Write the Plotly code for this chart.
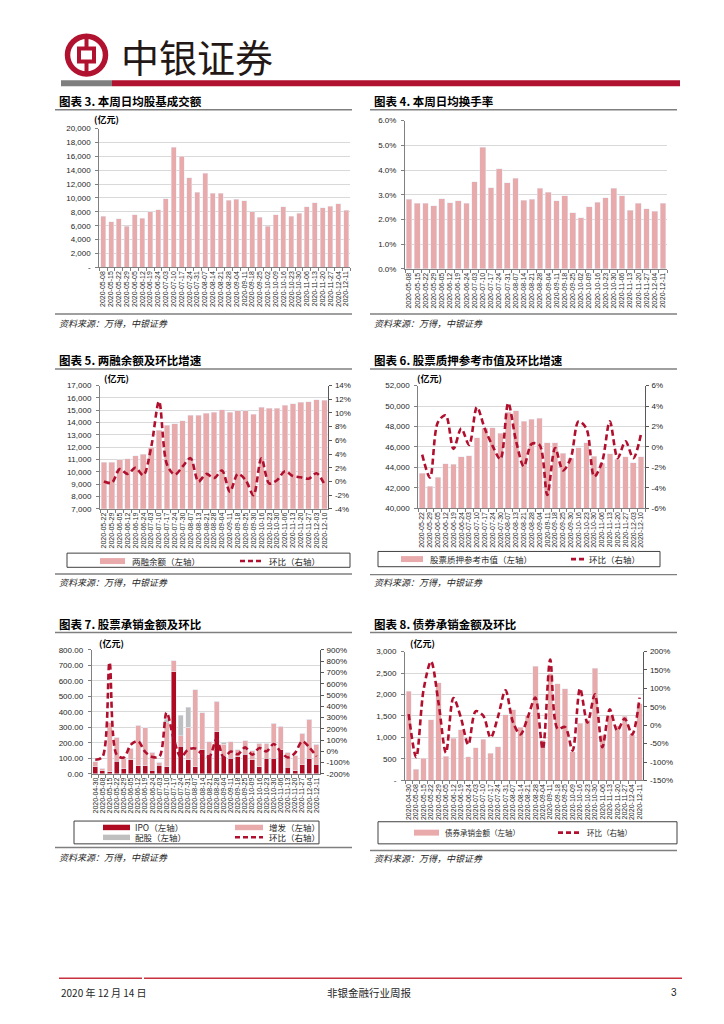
import plotly.graph_objects as go

W, H = 724, 1024
def X(px): return px / W
def Y(py): return 1 - py / H

PINK = "#E8AAAA"
RED = "#B0102E"
DARKRED = "#AE0B22"
GRAY = "#BFBFBF"
GRID = "#D9D9D9"
AXIS = "#808080"
RAXIS = "#595959"
TXT = "#262626"
NUM_FONT = "Liberation Sans, Arial, sans-serif"
CJK = "Noto Sans CJK SC, sans-serif"

# ---------------- data ----------------
dates3 = ["2020-05-08", "2020-05-15", "2020-05-22", "2020-05-29", "2020-06-05", "2020-06-12",
          "2020-06-19", "2020-06-24", "2020-07-03", "2020-07-10", "2020-07-17", "2020-07-24",
          "2020-07-31", "2020-08-07", "2020-08-14", "2020-08-21", "2020-08-28", "2020-09-04",
          "2020-09-11", "2020-09-18", "2020-09-25", "2020-10-02", "2020-10-09", "2020-10-16",
          "2020-10-23", "2020-10-30", "2020-11-06", "2020-11-13", "2020-11-20", "2020-11-27",
          "2020-12-04", "2020-12-11"]
turnover_amount = [7400, 6600, 7000, 5900, 7600, 7100, 8000, 8300, 9900, 17300, 16000, 12900,
                   10800, 13600, 10700, 10700, 9700, 9800, 9600, 8000, 7200, 5900, 7600, 8700,
                   7400, 7800, 8700, 9300, 8600, 8800, 9200, 8200]
y3_vals = [0, 2000, 4000, 6000, 8000, 10000, 12000, 14000, 16000, 18000, 20000]
y3_text = ["-", "2,000", "4,000", "6,000", "8,000", "10,000", "12,000", "14,000", "16,000",
           "18,000", "20,000"]

dates4 = dates3
turnover_rate = [2.83, 2.65, 2.66, 2.55, 2.85, 2.68, 2.75, 2.65, 3.52, 4.92, 3.28, 4.05, 3.48,
                 3.68, 2.78, 2.82, 3.27, 3.10, 2.75, 2.97, 2.27, 2.08, 2.52, 2.70, 2.88, 3.27,
                 2.97, 2.37, 2.65, 2.43, 2.33, 2.65]
y4_vals = [0, 1, 2, 3, 4, 5, 6]
y4_text = ["0.0%", "1.0%", "2.0%", "3.0%", "4.0%", "5.0%", "6.0%"]

dates5 = ["2020-05-22", "2020-05-29", "2020-06-05", "2020-06-12", "2020-06-19", "2020-06-24",
          "2020-07-03", "2020-07-10", "2020-07-17", "2020-07-24", "2020-07-30", "2020-08-07",
          "2020-08-13", "2020-08-21", "2020-08-28", "2020-09-04", "2020-09-11", "2020-09-18",
          "2020-09-25", "2020-09-30", "2020-10-16", "2020-10-23", "2020-10-30", "2020-11-06",
          "2020-11-13", "2020-11-20", "2020-11-27", "2020-12-03", "2020-12-10"]
margin_balance = [10780, 10780, 10970, 11050, 11290, 11420, 12000, 13380, 13780, 13890, 14130,
                  14610, 14610, 14750, 14830, 15040, 14830, 14960, 14960, 14670, 15230, 15180,
                  15180, 15390, 15520, 15660, 15710, 15870, 15820]
margin_mom = [0.0, -0.2, 1.8, 1.1, 2.0, 0.9, 5.0, 11.7, 2.5, 1.0, 2.2, 3.4, 0.0, 1.1, 0.5, 1.6,
              -1.5, 1.1, 0.2, -2.0, 3.4, -0.3, 0.2, 1.5, 0.8, 0.6, 0.4, 1.2, -0.4]
y5_vals = [7000, 8000, 9000, 10000, 11000, 12000, 13000, 14000, 15000, 16000, 17000]
y5_text = ["7,000", "8,000", "9,000", "10,000", "11,000", "12,000", "13,000", "14,000",
           "15,000", "16,000", "17,000"]
y5r_vals = [-4, -2, 0, 2, 4, 6, 8, 10, 12, 14]
y5r_text = ["-4%", "-2%", "0%", "2%", "4%", "6%", "8%", "10%", "12%", "14%"]

dates6 = dates5
pledge_value = [43440, 42170, 43010, 44340, 44280, 45020, 45150, 46900, 47840, 47880, 47360,
                49400, 49530, 48530, 48720, 48790, 46420, 46420, 45390, 44890, 45940, 46420,
                45090, 44420, 45320, 44770, 45060, 44470, 45020]
pledge_mom = [-0.75, -3.0, 2.4, 3.1, -0.2, 1.8, 0.2, 3.9, 1.8, 0.1, -1.2, 4.3, 0.6, -1.9, 0.3,
              0.2, -4.7, -0.1, -2.3, -1.1, 2.5, 1.8, -2.9, -1.5, 2.5, -1.1, 0.55, -1.1, 1.3]
y6_vals = [40000, 42000, 44000, 46000, 48000, 50000, 52000]
y6_text = ["40,000", "42,000", "44,000", "46,000", "48,000", "50,000", "52,000"]
y6r_vals = [-6, -4, -2, 0, 2, 4, 6]
y6r_text = ["-6%", "-4%", "-2%", "0%", "2%", "4%", "6%"]

dates7 = ["2020-04-30", "2020-05-08", "2020-05-15", "2020-05-22", "2020-05-29", "2020-06-05",
          "2020-06-12", "2020-06-19", "2020-06-24", "2020-07-03", "2020-07-10", "2020-07-17",
          "2020-07-24", "2020-07-31", "2020-08-07", "2020-08-14", "2020-08-21", "2020-08-28",
          "2020-09-04", "2020-09-11", "2020-09-18", "2020-09-25", "2020-10-09", "2020-10-16",
          "2020-10-23", "2020-10-30", "2020-11-06", "2020-11-13", "2020-11-20", "2020-11-27",
          "2020-12-04", "2020-12-11"]
ipo = [45, 21, 15, 81, 34, 90, 53, 51, 23, 55, 45, 661, 177, 92, 45, 156, 128, 271, 115, 100,
       111, 126, 92, 45, 100, 102, 156, 43, 19, 58, 100, 62]
seo = [34, 15, 315, 154, 66, 74, 260, 247, 116, 20, 285, 70, 68, 208, 498, 238, 81, 198, 75,
       107, 45, 87, 58, 153, 98, 226, 153, 96, 98, 204, 252, 130]
rights = [0, 0, 0, 0, 0, 0, 0, 0, 0, 0, 22, 0, 132, 130, 0, 0, 0, 0, 15, 0, 0, 0, 0, 0, 0, 0,
          0, 0, 0, 0, 0, 0]
equity_mom = [-75, -50, 790, -30, -55, 60, 90, -5, -50, -45, 345, 110, -50, 15, 25, -25, -45,
              110, -55, -2, -25, 35, -30, 30, 0, 65, -5, -55, -15, 90, 35, -45]
y7_vals = [0, 100, 200, 300, 400, 500, 600, 700, 800]
y7_text = ["0.00", "100.00", "200.00", "300.00", "400.00", "500.00", "600.00", "700.00", "800.00"]
y7r_vals = [-200, -100, 0, 100, 200, 300, 400, 500, 600, 700, 800, 900]
y7r_text = ["-200%", "-100%", "0%", "100%", "200%", "300%", "400%", "500%", "600%", "700%",
            "800%", "900%"]

dates8 = dates7
bond_uw = [2077, 262, 515, 1408, 2270, 562, 977, 1185, 554, 762, 962, 631, 785, 1531, 1646,
           1238, 1515, 2654, 930, 2500, 2246, 2131, 669, 1331, 1400, 2615, 1046, 1500, 1270,
           1490, 1060, 1790]
bond_mom = [30, -87, 97, 173, 61, -75, 74, 21, -53, 38, 26, -34, 24, 95, 8, -25, 22, 75, -65,
            178, -10, -5, -69, 100, 7, 84, -60, 43, -15, 18, -25, 75]
y8_vals = [0, 500, 1000, 1500, 2000, 2500, 3000]
y8_text = ["-", "500", "1,000", "1,500", "2,000", "2,500", "3,000"]
y8r_vals = [-150, -100, -50, 0, 50, 100, 150, 200]
y8r_text = ["-150%", "-100%", "-50%", "0%", "50%", "100%", "150%", "200%"]

# ---------------- figure ----------------
fig = go.Figure()
LINE = dict(color=RED, width=2.6, dash="6px,3.5px", shape="spline", smoothing=0.9)

fig.add_trace(go.Bar(x=dates3, y=turnover_amount, marker_color=PINK, width=0.65,
                     xaxis="x", yaxis="y", name="成交额"))
fig.add_trace(go.Bar(x=dates4, y=turnover_rate, marker_color=PINK, width=0.7,
                     xaxis="x2", yaxis="y2", name="换手率"))
fig.add_trace(go.Bar(x=dates5, y=margin_balance, marker_color=PINK, width=0.72,
                     xaxis="x3", yaxis="y3", name="两融余额（左轴）"))
fig.add_trace(go.Scatter(x=dates5, y=margin_mom, mode="lines", line=LINE,
                         xaxis="x3", yaxis="y4", name="环比（右轴）"))
fig.add_trace(go.Bar(x=dates6, y=pledge_value, marker_color=PINK, width=0.72,
                     xaxis="x4", yaxis="y5", name="股票质押参考市值（左轴）"))
fig.add_trace(go.Scatter(x=dates6, y=pledge_mom, mode="lines", line=LINE,
                         xaxis="x4", yaxis="y6", name="环比（右轴）"))
fig.add_trace(go.Bar(x=dates7, y=ipo, marker_color=DARKRED, width=0.7,
                     xaxis="x5", yaxis="y7", name="IPO（左轴）"))
fig.add_trace(go.Bar(x=dates7, y=seo, marker_color=PINK, width=0.7,
                     xaxis="x5", yaxis="y7", name="增发（左轴）"))
fig.add_trace(go.Bar(x=dates7, y=rights, marker_color=GRAY, width=0.7,
                     xaxis="x5", yaxis="y7", name="配股（左轴）"))
fig.add_trace(go.Scatter(x=dates7, y=equity_mom, mode="lines", line=LINE,
                         xaxis="x5", yaxis="y8", name="环比（右轴）"))
fig.add_trace(go.Bar(x=dates8, y=bond_uw, marker_color=PINK, width=0.72,
                     xaxis="x6", yaxis="y9", name="债券承销金额（左轴）"))
fig.add_trace(go.Scatter(x=dates8, y=bond_mom, mode="lines", line=LINE,
                         xaxis="x6", yaxis="y10", name="环比（右轴）"))


def xax(x0, x1, anchor, cats):
    return dict(domain=[X(x0), X(x1)], anchor=anchor, type="category", tickangle=-90,
                tickmode="array", tickvals=cats, ticktext=cats,
                tickfont=dict(family=NUM_FONT, size=7, color=TXT),
                showline=True, linecolor=AXIS, linewidth=1, ticks="outside", ticklen=3,
                tickcolor=AXIS, tickson="boundaries", showgrid=False, fixedrange=True)


def yax(top, bot, anchor, rng, vals, text):
    return dict(domain=[Y(bot), Y(top)], anchor=anchor, range=rng, tickvals=vals,
                ticktext=text, tickfont=dict(family=NUM_FONT, size=8, color=TXT),
                showgrid=True, gridcolor=GRID, gridwidth=1, zeroline=False,
                showline=True, linecolor=AXIS, linewidth=1, ticks="outside", ticklen=3,
                tickcolor=AXIS, ticklabelstandoff=3, fixedrange=True)


def yr(overlay, anchor, rng, vals, text):
    return dict(overlaying=overlay, side="right", anchor=anchor, range=rng, tickvals=vals,
                ticktext=text, tickfont=dict(family=NUM_FONT, size=8, color=TXT),
                showgrid=False, zeroline=False, showline=True, linecolor=RAXIS, linewidth=1,
                ticks="outside", ticklen=3, tickcolor=RAXIS, ticklabelstandoff=1,
                fixedrange=True)


layout = dict(
    width=W, height=H, margin=dict(l=0, r=0, t=0, b=0), autosize=False,
    paper_bgcolor="white", plot_bgcolor="white", showlegend=False, barmode="stack",
    font=dict(family=CJK, color=TXT),
    xaxis=xax(99.3, 350, "y", dates3),
    yaxis=yax(125.7, 265.7, "x", [0, 20000], y3_vals, y3_text),
    xaxis2=xax(405, 667, "y2", dates4),
    yaxis2=yax(117.7, 267.3, "x2", [0, 6], y4_vals, y4_text),
    xaxis3=xax(100, 328.3, "y3", dates5),
    yaxis3=yax(385, 509.3, "x3", [7000, 17000], y5_vals, y5_text),
    yaxis4=yr("y3", "x3", [-4, 14], y5r_vals, y5r_text),
    xaxis4=xax(418.3, 645, "y5", dates6),
    yaxis5=yax(385, 508.7, "x4", [40000, 52000], y6_vals, y6_text),
    yaxis6=yr("y5", "x4", [-6, 6], y6r_vals, y6r_text),
    xaxis5=xax(91.7, 320, "y7", dates7),
    yaxis7=yax(651.7, 776.7, "x5", [0, 800], y7_vals, y7_text),
    yaxis8=yr("y7", "x5", [-200, 900], y7r_vals, y7r_text),
    xaxis6=xax(405, 643.3, "y9", dates8),
    yaxis9=yax(653.3, 783.3, "x6", [0, 3000], y8_vals, y8_text),
    yaxis10=yr("y9", "x6", [-150, 200], y8r_vals, y8r_text),
)
fig.update_layout(**layout)

ann = []
shapes = []


def text(x, y, s, size, anchor="left", color=TXT, family=CJK):
    ann.append(dict(x=X(x), y=Y(y), xref="paper", yref="paper", text=s, showarrow=False,
                    xanchor=anchor, yanchor="middle",
                    font=dict(family=family, size=size, color=color)))


def hline(x0, x1, y, color="#7F7F7F", width=1.4, dash=None):
    ln = dict(color=color, width=width)
    if dash:
        ln["dash"] = dash
    shapes.append(dict(type="line", xref="paper", yref="paper", x0=X(x0), x1=X(x1),
                       y0=Y(y), y1=Y(y), line=ln))


def rect(x0, y0, x1, y1, fill=None, line_color=None, lw=0):
    d = dict(type="rect", xref="paper", yref="paper", x0=X(x0), x1=X(x1), y0=Y(y1), y1=Y(y0),
             line=dict(width=lw, color=line_color or "rgba(0,0,0,0)"))
    if fill:
        d["fillcolor"] = fill
    shapes.append(d)


# header
HRED = "#B1122F"
rect(61, 77, 112, 83, fill="#7F7F7F")
rect(112, 77, 680, 83, fill=HRED)
shapes.append(dict(type="circle", xref="paper", yref="paper", x0=X(67.5), x1=X(105.5),
                   y0=Y(70.5), y1=Y(32.5), line=dict(color=HRED, width=5.5)))
shapes.append(dict(type="rect", xref="paper", yref="paper", x0=X(79), x1=X(94), y0=Y(58),
                   y1=Y(45), line=dict(color=HRED, width=4)))
shapes.append(dict(type="line", xref="paper", yref="paper", x0=X(86.5), x1=X(86.5),
                   y0=Y(33), y1=Y(45), line=dict(color=HRED, width=4)))
shapes.append(dict(type="line", xref="paper", yref="paper", x0=X(86.5), x1=X(86.5),
                   y0=Y(58), y1=Y(70), line=dict(color=HRED, width=4)))
text(119, 52, "中银证券", 38, color="#231815")

# titles + underlines + sources
titles = [(57, 97.5, "图表 3. 本周日均股基成交额"), (372, 97.5, "图表 4. 本周日均换手率"),
          (57, 359, "图表 5. 两融余额及环比增速"), (372, 359, "图表 6. 股票质押参考市值及环比增速"),
          (57, 625, "图表 7. 股票承销金额及环比"), (372, 625, "图表 8. 债券承销金额及环比")]
for x, y, s in titles:
    text(x, y, "<b>" + s + "</b>", 11.5, color="#000000")
for y in (106.7, 368.3, 634):
    hline(55, 352, y)
    hline(370, 677, y)
src = "<i>资料来源：万得，中银证券</i>"
for (x0, x1, xl), yl, ys in [((55, 352, 57), 312.7, 322), ((370, 677, 372), 312.7, 322),
                             ((55, 352, 57), 575, 584), ((370, 677, 372), 575.7, 584),
                             ((55, 352, 57), 851, 861), ((370, 677, 372), 854, 862.5)]:
    hline(x0, x1, yl)
    text(xl, ys, src, 9)

# units
for x, y in [(92, 117), (102, 378), (415, 378), (97, 645), (408, 645)]:
    text(x, y, "<b>(亿元)</b>", 9, color="#000000")

# legends
DASH = "5px,3px"
LC = "#404040"
# chart 5
rect(67, 554, 350, 568.3, line_color=LC, lw=1)
rect(100, 559, 125, 565, fill=PINK)
text(130, 561.5, "两融余额（左轴）", 8.5)
hline(240, 262, 562, color=RED, width=2.6, dash=DASH)
text(267, 561.5, "环比（右轴）", 8.5)
# chart 6
rect(378, 552.3, 660, 567.7, line_color=LC, lw=1)
rect(401, 557, 423, 563, fill=PINK)
text(428, 560, "股票质押参考市值（左轴）", 8.5)
hline(571, 584, 560, color=RED, width=2.6, dash=DASH)
text(587, 560, "环比（右轴）", 8.5)
# chart 7
rect(74, 824.3, 319, 847.3, line_color=LC, lw=1)
rect(103, 828, 130, 833.5, fill=DARKRED)
text(133, 830.5, "IPO（左轴）", 8.5)
rect(235, 828, 263, 833.5, fill=PINK)
text(267, 830.5, "增发（左轴）", 8.5)
rect(103, 838, 130, 843.5, fill=GRAY)
text(133, 840.7, "配股（左轴）", 8.5)
hline(235, 263, 840.7, color=RED, width=2.6, dash=DASH)
text(267, 840.7, "环比（右轴）", 8.5)
# chart 8
rect(378, 825, 677, 847.3, line_color=LC, lw=1)
rect(414, 833, 439, 839, fill=PINK)
text(443, 836, "债券承销金额（左轴）", 7.5)
hline(558, 582, 836, color=RED, width=2.6, dash=DASH)
text(585, 836, "环比（右轴）", 7.5)

# footer
hline(59, 142, 983, color="#C8323F", width=1.5)
hline(144, 682, 983, color="#C8323F", width=1.5)
text(59, 997, "2020 年 12 月 14 日", 10)
text(369, 997, "非银金融行业周报", 10.5, anchor="center")
text(679, 997, "3", 10, anchor="right", family=NUM_FONT)

fig.update_layout(annotations=ann, shapes=shapes)
fig.write_html("out.html", config={"displayModeBar": False},
               post_script="document.body.style.margin='0';document.body.style.overflow='hidden';")
